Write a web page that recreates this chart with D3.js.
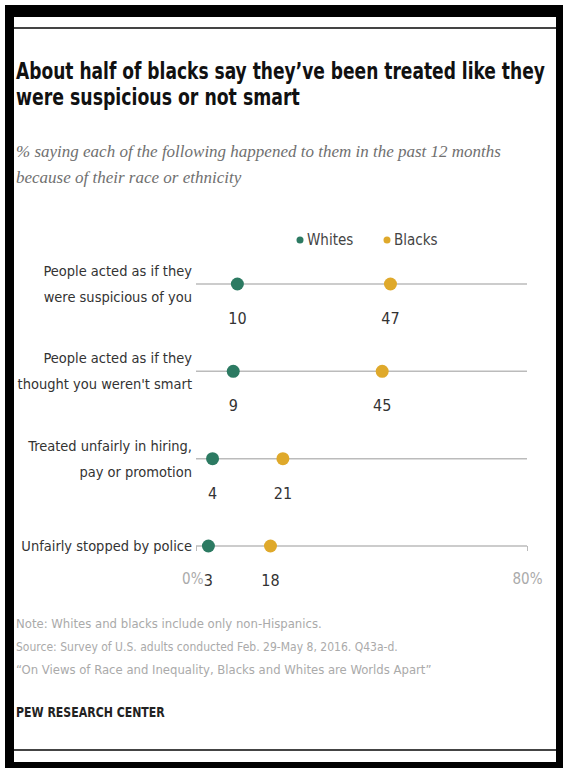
<!DOCTYPE html>
<html>
<head>
<meta charset="utf-8">
<script src="https://cdn.jsdelivr.net/npm/d3@7"></script>
<style>
  body { margin: 0; background: #fff; }
  .narrow { font-family: "Liberation Sans Narrow", "DejaVu Sans Condensed", "Arial Narrow", sans-serif; }
</style>
</head>
<body>
<div id="chart"></div>
<script>
// chart data
var categories = [
  ["People acted as if they", "were suspicious of you"],
  ["People acted as if they", "thought you weren't smart"],
  ["Treated unfairly in hiring,", "pay or promotion"],
  ["Unfairly stopped by police"]
];
var whites = [10, 9, 4, 3];
var blacks = [47, 45, 21, 18];
var axisTicks = [0, 80];
var seriesNames = ["Whites", "Blacks"];

var width = 563;
var height = 768;
var green = "#2c7a62";
var gold = "#dfa92b";

var svg = d3.select("#chart")
  .append("svg")
  .attr("width", width)
  .attr("height", height);

// text at (x, y), squeezed sideways if wider than w
function fitText(parent, x, y, str, w) {
  var t = parent.append("text").attr("x", 0).attr("y", 0).text(str);
  var n = t.node().getComputedTextLength();
  var k = n > w ? w / n : 1;
  t.attr("transform", "translate(" + x + "," + y + ") scale(" + k + ",1)");
  return t;
}

// black frame around the card
svg.append("rect").attr("x", 5).attr("y", 5).attr("width", width - 5).attr("height", height - 5).attr("fill", "#000");
svg.append("rect").attr("x", 14).attr("y", 17).attr("width", 542).attr("height", 745).attr("fill", "#fff");
svg.append("line").attr("x1", 14).attr("x2", 556).attr("y1", 28).attr("y2", 28).attr("stroke", "#444").attr("stroke-width", 2);
svg.append("line").attr("x1", 14).attr("x2", 556).attr("y1", 750).attr("y2", 750).attr("stroke", "#444").attr("stroke-width", 2);

// title + subtitle
var title = svg.append("g").attr("class", "narrow")
  .attr("font-weight", "bold").attr("font-size", 23).attr("fill", "#111");
fitText(title, 16, 79, "About half of blacks say they\u2019ve been treated like they", 529);
fitText(title, 16, 105, "were suspicious or not smart", 284);

var sub = svg.append("g")
  .attr("font-family", "'Liberation Serif', 'DejaVu Serif', serif")
  .attr("font-style", "italic").attr("font-size", 17).attr("fill", "#707070");
fitText(sub, 16, 157, "% saying each of the following  happened to them in the past 12 months", 489);
fitText(sub, 16, 183, "because of their race or ethnicity", 240);

// scales
var x = d3.scaleLinear().domain([0, 80]).range([196, 527]);
var y = d3.scalePoint().domain(d3.range(categories.length)).range([284, 546]);

// legend
var legend = svg.append("g").attr("class", "narrow").attr("font-size", 15).attr("fill", "#444");
var legendX = [300, 387];
seriesNames.forEach(function(name, i) {
  legend.append("circle").attr("cx", legendX[i]).attr("cy", 240).attr("r", 3.5)
    .attr("fill", i === 0 ? green : gold);
  legend.append("text").attr("x", legendX[i] + 7).attr("y", 245).text(name);
});

// row lines
svg.append("g").selectAll("line")
  .data(categories)
  .join("line")
  .attr("x1", x(0)).attr("x2", x(80))
  .attr("y1", function(d, i) { return y(i); })
  .attr("y2", function(d, i) { return y(i); })
  .attr("stroke", "#bbb").attr("stroke-width", 1.5);

// axis on the last row
var axis = svg.append("g")
  .attr("transform", "translate(0," + y(categories.length - 1) + ")")
  .call(d3.axisBottom(x).tickValues(axisTicks).tickSize(5).tickFormat(function(d) { return d + "%"; }));
axis.select(".domain").remove();
axis.selectAll(".tick line").attr("stroke", "#bbb");
axis.selectAll(".tick text")
  .attr("class", "narrow").attr("font-size", 15).attr("fill", "#aaa")
  .attr("y", 38).attr("dy", 0);
// the 0% label sits just left of the "3" value, as in the original
axis.selectAll(".tick text").filter(function(d) { return d === 0; })
  .attr("text-anchor", "end").attr("x", 7);

// category labels
var labels = svg.append("g").attr("class", "narrow").attr("font-size", 14.5).attr("fill", "#333")
  .attr("text-anchor", "end");
categories.forEach(function(lines, i) {
  var t = labels.append("text").attr("x", 192)
    .attr("y", y(i) - (lines.length - 1) * 13 + 5);
  lines.forEach(function(l, j) {
    t.append("tspan").attr("x", 192).attr("dy", j === 0 ? 0 : 26).text(l);
  });
});

// dots + value labels
[whites, blacks].forEach(function(series, s) {
  var color = s === 0 ? green : gold;
  svg.append("g").selectAll("circle")
    .data(series)
    .join("circle")
    .attr("cx", function(d) { return x(d); })
    .attr("cy", function(d, i) { return y(i); })
    .attr("r", 6.5)
    .attr("fill", color);
  svg.append("g").attr("class", "narrow").attr("font-size", 16).attr("fill", "#333")
    .attr("text-anchor", "middle")
    .selectAll("text")
    .data(series)
    .join("text")
    .attr("x", function(d) { return x(d); })
    .attr("y", function(d, i) { return y(i) + 40; })
    .text(function(d) { return d; });
});

// footer
var foot = svg.append("g").attr("class", "narrow").attr("font-size", 13).attr("fill", "#aaa");
fitText(foot, 16, 628, "Note: Whites and blacks include only non-Hispanics.", 306);
fitText(foot, 16, 651, "Source: Survey of U.S. adults conducted Feb. 29-May 8, 2016. Q43a-d.", 382);
fitText(foot, 16, 674, "\u201COn Views of Race and Inequality, Blacks and Whites are Worlds Apart\u201D", 416);
var pew = svg.append("g").attr("class", "narrow")
  .attr("font-size", 14).attr("font-weight", "bold").attr("fill", "#222");
fitText(pew, 16, 717, "PEW RESEARCH CENTER", 149);
</script>
</body>
</html>
